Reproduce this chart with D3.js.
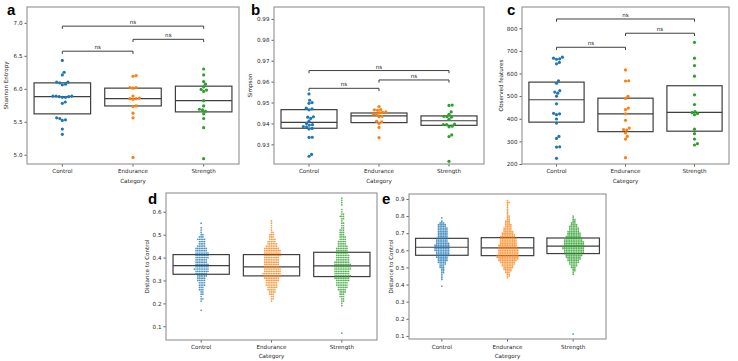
<!DOCTYPE html>
<html lang="en">
<head>
<meta charset="UTF-8">
<title>Diversity by category</title>
<script src="https://d3js.org/d3.v7.min.js"></script>
<style>
  body { margin: 0; background: #fff; }
  svg text { font-family: "DejaVu Sans", sans-serif; fill: #262626; }
  .tick text { font-size: 5.6px; }
  .axis-label { font-size: 5.6px; }
  .ns { font-size: 5.6px; text-anchor: middle; }
  .letter { font-family: "Liberation Sans", Arial, sans-serif; font-weight: bold; font-size: 15px; fill: #000; }
</style>
</head>
<body>
<svg width="738" height="361"></svg>
<script>
const categories = ["Control", "Endurance", "Strength"];
const colors = ["#1f77b4", "#ff7f0e", "#2ca02c"];

// a - Shannon entropy
const aControl = [6.43, 6.25, 6.21, 6.10, 6.10, 6.09, 6.07, 6.06, 5.89, 5.89, 5.88, 5.88, 5.87, 5.87, 5.89, 5.80, 5.78, 5.56, 5.55, 5.53, 5.52, 5.39, 5.31];
const aEndurance = [6.20, 6.19, 6.02, 6.01, 6.02, 5.89, 5.86, 5.85, 5.84, 5.85, 5.74, 5.73, 5.63, 5.56, 4.96];
const aStrength = [6.30, 6.21, 6.11, 6.07, 6.03, 5.99, 5.98, 5.96, 5.82, 5.74, 5.69, 5.68, 5.66, 5.62, 5.55, 5.41, 4.94];
const aBoxes = [[5.62, 5.88, 6.09], [5.74, 5.85, 6.01], [5.65, 5.82, 6.04]];
const aBrackets = [[0, 1, 6.57], [1, 2, 6.75], [0, 2, 6.95]];
const aTicks = [5.0, 5.5, 6.0, 6.5, 7.0];

// b - Simpson
const bControl = [0.9541, 0.9511, 0.9500, 0.9496, 0.9473, 0.9470, 0.9465, 0.9432, 0.9430, 0.9424, 0.9411, 0.9400, 0.9394, 0.9392, 0.9385, 0.9384, 0.9376, 0.9374, 0.9334, 0.9333, 0.9252, 0.9243];
const bEndurance = [0.9481, 0.9466, 0.9465, 0.9463, 0.9455, 0.9453, 0.9451, 0.9444, 0.9443, 0.9434, 0.9432, 0.9410, 0.9408, 0.9400, 0.9381, 0.9332];
const bStrength = [0.9488, 0.9486, 0.9455, 0.9444, 0.9434, 0.9432, 0.9430, 0.9420, 0.9397, 0.9395, 0.9394, 0.9387, 0.9384, 0.9345, 0.9337, 0.9219];
const bBoxes = [[0.9377, 0.9405, 0.9466], [0.9404, 0.9436, 0.9450], [0.9391, 0.9413, 0.9436]];
const bBrackets = [[0, 1, 0.9568], [1, 2, 0.9608], [0, 2, 0.9653]];
const bTicks = [0.93, 0.94, 0.95, 0.96, 0.97, 0.98, 0.99];

// c - Observed features
const cControl = [672, 668, 665, 663, 649, 643, 568, 557, 524, 518, 513, 500, 466, 424, 422, 418, 399, 381, 322, 313, 276, 275, 225];
const cEndurance = [616, 568, 567, 499, 490, 447, 440, 422, 393, 359, 352, 350, 337, 322, 310, 228];
const cStrength = [738, 668, 635, 588, 506, 463, 432, 427, 423, 418, 354, 334, 310, 290, 284];
const cBoxes = [[385, 484, 562], [343, 422, 491], [345, 428, 546]];
const cBrackets = [[0, 1, 716], [1, 2, 778], [0, 2, 841]];
const cTicks = [200, 300, 400, 500, 600, 700, 800];

// d - distance to control, counts per 0.01 bin starting at given value
const dControlFrom = 0.17;
const dControlCounts = [1, 0, 0, 0, 1, 2, 1, 2, 2, 3, 3, 4, 4, 5, 5, 6, 7, 8, 9, 8, 8, 7, 7, 8, 8, 8, 7, 7, 5, 4, 4, 5, 3, 2, 1, 1, 1, 0, 1];
const dEnduranceFrom = 0.21;
const dEnduranceCounts = [1, 2, 2, 3, 4, 5, 6, 7, 7, 8, 9, 10, 11, 10, 10, 9, 9, 9, 9, 9, 10, 10, 10, 9, 7, 6, 5, 4, 3, 3, 2, 1, 1, 1, 1, 1];
const dStrengthFrom = 0.07;
const dStrengthCounts = [1, 0, 0, 0, 0, 0, 0, 0, 0, 0, 0, 0, 1, 1, 2, 2, 3, 3, 4, 5, 6, 7, 7, 8, 9, 10, 9, 9, 10, 10, 10, 9, 8, 8, 8, 7, 7, 7, 6, 5, 5, 4, 4, 3, 3, 3, 2, 2, 2, 1, 2, 3, 2, 1, 1, 0, 1, 1, 1, 1];
const dBoxes = [[0.327, 0.365, 0.413], [0.320, 0.359, 0.413], [0.317, 0.364, 0.423]];
const dTicks = [0.1, 0.2, 0.3, 0.4, 0.5, 0.6];

// e - distance to control
const eControlFrom = 0.39;
const eControlCounts = [1, 0, 0, 0, 1, 1, 1, 1, 2, 2, 2, 3, 3, 4, 5, 6, 6, 7, 8, 8, 8, 9, 9, 9, 9, 8, 7, 7, 7, 6, 6, 6, 6, 6, 6, 5, 5, 3, 1, 0, 1];
const eEnduranceFrom = 0.44;
const eEnduranceCounts = [1, 2, 2, 3, 4, 5, 6, 7, 8, 9, 11, 12, 13, 13, 12, 12, 12, 12, 11, 11, 10, 10, 10, 10, 9, 8, 7, 6, 5, 5, 4, 4, 3, 3, 2, 2, 2, 1, 1, 1, 1, 1, 1, 1, 2, 1];
const eStrengthFrom = 0.46;
const eStrengthCounts = [1, 1, 2, 2, 3, 4, 5, 6, 7, 8, 9, 10, 11, 12, 12, 13, 13, 12, 12, 12, 11, 10, 9, 8, 8, 7, 6, 6, 5, 4, 3, 2, 2, 1, 1];
const eStrengthExtra = [0.11];
const eBoxes = [[0.571, 0.618, 0.670], [0.569, 0.614, 0.674], [0.581, 0.624, 0.672]];
const eTicks = [0.1, 0.2, 0.3, 0.4, 0.5, 0.6, 0.7, 0.8, 0.9];

function expand(from, counts) {
    const out = [];
    counts.forEach((n, i) => {
        const v = +(from + i * 0.01).toFixed(2);
        for (let k = 0; k < n; k++) out.push(v);
    });
    return out;
}

const panels = [
    { letter: "a", ylabel: "Shannon Entropy", box: [27, 239, 7, 164], domain: [4.86, 7.24], ticks: aTicks, fmt: ".1f",
      groups: [aControl, aEndurance, aStrength], boxes: aBoxes, brackets: aBrackets, r: 1.6, letterPos: [7, 15], xl: 173, cat: 183, yl: 19 },
    { letter: "b", ylabel: "Simpson", box: [274, 484, 7, 164], domain: [0.9206, 0.9957], ticks: bTicks, fmt: ".2f",
      groups: [bControl, bEndurance, bStrength], boxes: bBoxes, brackets: bBrackets, r: 1.6, letterPos: [251, 15], xl: 173, cat: 183, yl: 22 },
    { letter: "c", ylabel: "Observed features", box: [522, 729, 7, 164], domain: [200, 894], ticks: cTicks, fmt: "d",
      groups: [cControl, cEndurance, cStrength], boxes: cBoxes, brackets: cBrackets, r: 1.6, letterPos: [507, 15], xl: 173, cat: 183, yl: 19 },
    { letter: "d", ylabel: "Distance to Control", box: [166, 377, 193, 340], domain: [0.04, 0.682], ticks: dTicks, fmt: ".1f",
      groups: [expand(dControlFrom, dControlCounts), expand(dEnduranceFrom, dEnduranceCounts), expand(dStrengthFrom, dStrengthCounts)],
      boxes: dBoxes, brackets: [], r: 0.85, letterPos: [148, 204], xl: 349, cat: 358, yl: 17 },
    { letter: "e", ylabel: "Distance to Control", box: [409, 606, 194, 339], domain: [0.082, 0.929], ticks: eTicks, fmt: ".1f",
      groups: [expand(eControlFrom, eControlCounts), expand(eEnduranceFrom, eEnduranceCounts), expand(eStrengthFrom, eStrengthCounts).concat(eStrengthExtra)],
      boxes: eBoxes, brackets: [], r: 0.85, letterPos: [382, 204], xl: 349, cat: 358, yl: 16 }
];

// simple beeswarm: place each point at the smallest offset that avoids overlaps
function swarm(values, y, r) {
    const pts = values.map(v => ({ v, y: y(v), x: 0 })).sort((a, b) => b.y - a.y);
    const placed = [];
    const d = 2 * r;
    pts.forEach(p => {
        const near = placed.filter(q => Math.abs(q.y - p.y) < d);
        const cands = [0];
        near.forEach(q => {
            const dx = Math.sqrt(d * d - (q.y - p.y) ** 2);
            cands.push(q.x + dx, q.x - dx);
        });
        cands.sort((a, b) => Math.abs(a) - Math.abs(b));
        for (const c of cands) {
            if (near.every(q => (q.x - c) ** 2 + (q.y - p.y) ** 2 >= d * d - 1e-6)) { p.x = c; break; }
        }
        placed.push(p);
    });
    return pts;
}

const svg = d3.select("svg");

panels.forEach(p => {
    const [x0, x1, y0, y1] = p.box;
    const g = svg.append("g");
    const x = d3.scaleBand().domain(categories).range([x0, x1]).padding(0);
    const y = d3.scaleLinear().domain(p.domain).range([y1, y0]);
    const bw = x.bandwidth();
    const cx = c => x(c) + bw / 2;

    // boxes
    p.boxes.forEach((b, i) => {
        const c = cx(categories[i]);
        g.append("rect")
            .attr("x", c - bw * 0.4).attr("width", bw * 0.8)
            .attr("y", y(b[2])).attr("height", y(b[0]) - y(b[2]))
            .attr("fill", "none").attr("stroke", "#3f3f3f").attr("stroke-width", 1.2);
        g.append("line")
            .attr("x1", c - bw * 0.4).attr("x2", c + bw * 0.4)
            .attr("y1", y(b[1])).attr("y2", y(b[1]))
            .attr("stroke", "#3f3f3f").attr("stroke-width", 1.2);
    });

    // points
    p.groups.forEach((vals, i) => {
        const c = cx(categories[i]);
        g.append("g").selectAll("circle")
            .data(swarm(vals, y, p.r))
            .enter().append("circle")
            .attr("cx", d => c + d.x)
            .attr("cy", d => d.y)
            .attr("r", p.r)
            .attr("fill", colors[i])
            .attr("fill-opacity", p.r < 1 ? 0.8 : 1);
    });

    // significance brackets
    p.brackets.forEach(([i, j, h]) => {
        const xa = cx(categories[i]), xb = cx(categories[j]), yy = y(h);
        g.append("path")
            .attr("d", `M${xa},${yy + 2.7}V${yy}H${xb}V${yy + 2.7}`)
            .attr("fill", "none").attr("stroke", "#3f3f3f").attr("stroke-width", 1);
        g.append("text").attr("class", "ns")
            .attr("x", (xa + xb) / 2).attr("y", yy - 2)
            .text("ns");
    });

    // axes
    const ya = g.append("g")
        .attr("transform", `translate(${x0},0)`)
        .call(d3.axisLeft(y).tickValues(p.ticks).tickFormat(d3.format(p.fmt)).tickSize(2.5).tickPadding(2));
    const xa = g.append("g")
        .attr("transform", `translate(0,${y1})`)
        .call(d3.axisBottom(x).tickSize(2.5).tickPadding(2));
    [ya, xa].forEach(a => {
        a.select(".domain").remove();
        a.selectAll(".tick line").attr("stroke", "#333").attr("stroke-width", 0.8);
        a.selectAll(".tick text").attr("fill", "#262626");
    });
    xa.selectAll(".tick text").attr("y", p.xl - y1).attr("dy", 0);

    // frame
    g.append("rect")
        .attr("x", x0).attr("y", y0).attr("width", x1 - x0).attr("height", y1 - y0)
        .attr("fill", "none").attr("stroke", "#999").attr("stroke-width", 1.2);

    g.append("text").attr("class", "axis-label")
        .attr("x", (x0 + x1) / 2).attr("y", p.cat)
        .attr("text-anchor", "middle").text("Category");
    g.append("text").attr("class", "axis-label")
        .attr("transform", `translate(${x0 - p.yl},${(y0 + y1) / 2}) rotate(-90)`)
        .attr("text-anchor", "middle").text(p.ylabel);

    g.append("text").attr("class", "letter")
        .attr("x", p.letterPos[0]).attr("y", p.letterPos[1])
        .text(p.letter);
});
</script>
</body>
</html>
